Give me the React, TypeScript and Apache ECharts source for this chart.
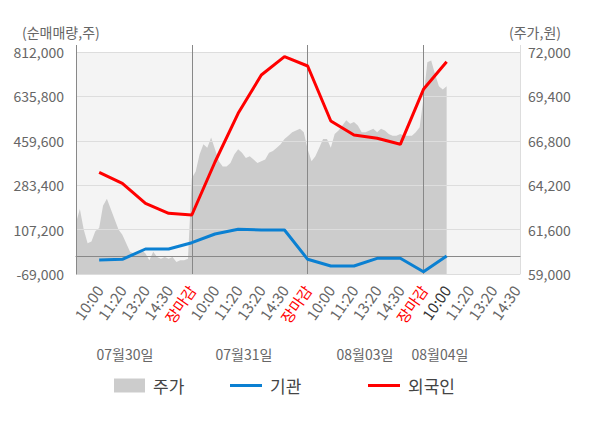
import { useEffect, useRef } from 'react';
import * as echarts from 'echarts';

const TIME_LABELS = ['10:00', '11:20', '13:20', '14:30', '장마감'];
const DAYS = ['07월30일', '07월31일', '08월03일', '08월04일'];
const LEFT_TICKS = { min: -69000, max: 812000, interval: 176200 };
const RIGHT_TICKS = { min: 59000, max: 72000, interval: 2600 };

const PRICE_D1 = [62000, 62800, 61600, 60800, 60900, 61500, 61700, 63000, 63400, 62800, 62200, 61600, 61300, 60800, 60300, 60200, 60300, 60400, 60200, 59800, 60300, 60000, 59900, 60000, 59900, 60000, 59700, 59800, 59800, 59900];
const PRICE_D2 = [64600, 65000, 66000, 66600, 66400, 67000, 66300, 65600, 65300, 65300, 65500, 66000, 66300, 66100, 65800, 65900, 65700, 65500, 65600, 65700, 66100, 66200, 66400, 66600, 66900, 67100, 67300, 67400, 67500, 67300];
const PRICE_D3 = [66300, 65600, 65900, 66400, 66900, 66900, 66400, 67200, 67400, 67700, 68000, 67800, 67900, 67700, 67300, 67300, 67400, 67500, 67300, 67500, 67400, 67200, 67100, 67100, 67200, 67100, 67100, 67100, 67300, 67600];
const PRICE_D4 = [69300, 71400, 71500, 70700, 70000, 69800, 70000];

// values at 10:00, 11:20, 13:20, 14:30, 장마감 of each day, then day-4 10:00
const FOREIGN = [334600, 290900, 211600, 171900, 165100, 375500, 568700, 720700, 793400, 756400, 538200, 482600, 469500, 445700, 664000, 773500];
const INST = [-13400, -10700, 30200, 30200, 55200, 89700, 108400, 105600, 105600, -10700, -37300, -37300, -6700, -6700, -59900, 2400];

const STEPS_PER_SLOT = 6;
const SLOTS_PER_DAY = TIME_LABELS.length;
const STEPS_PER_DAY = STEPS_PER_SLOT * SLOTS_PER_DAY;
const TOTAL_SLOTS = 19;
const N_CATS = TOTAL_SLOTS * STEPS_PER_SLOT + 2;
const CURRENT_LABEL = 15;

const CATS = Array.from({ length: N_CATS }, (_, i) => `${Math.floor(i / STEPS_PER_DAY)}-${i % STEPS_PER_DAY}`);
const PRICE = [...PRICE_D1, ...PRICE_D2, ...PRICE_D3, ...PRICE_D4];

function placeAtLabels(values: number[]) {
  const arr: (number | null)[] = new Array(N_CATS).fill(null);
  values.forEach((v, k) => {
    arr[(k + 1) * STEPS_PER_SLOT] = v;
  });
  return arr;
}

const FONT = "'Noto Sans CJK KR', 'Noto Sans', sans-serif";
const fmt = (v: number) => Math.round(v).toLocaleString('en-US');

export default function App() {
  const ref = useRef<HTMLDivElement>(null);
  useEffect(() => {
    document.body.style.margin = '0';
    const chart = echarts.init(ref.current!, null, { renderer: 'svg' });
    const topTick = (filter: (i: number) => boolean, color: string) => ({
      type: 'category',
      position: 'top',
      gridIndex: 0,
      data: CATS,
      boundaryGap: false,
      z: 3,
      axisLine: { show: false },
      axisLabel: { show: false },
      splitLine: { show: false },
      axisTick: { show: true, length: 7, interval: (i: number) => filter(i), lineStyle: { color, width: 1 } },
    });
    const legendText = { fontSize: 17, color: '#444', fontFamily: FONT, padding: [0, 0, 0, 3] };
    const option: any = {
      animation: false,
      textStyle: { fontFamily: FONT },
      grid: {
        left: 76, right: 80, top: 52, bottom: 154,
        show: true, backgroundColor: '#f4f4f4', borderWidth: 0,
        containLabel: false, outerBoundsMode: 'none',
      },
      legend: [
        { data: [{ name: '주가', icon: 'rect' }], left: 114, top: 377, padding: 0, itemWidth: 31, itemHeight: 14, textStyle: legendText, selectedMode: false },
        { data: [{ name: '기관', icon: 'rect' }], left: 230, top: 377, padding: 0, itemWidth: 32, itemHeight: 3, textStyle: legendText, selectedMode: false },
        { data: [{ name: '외국인', icon: 'rect' }], left: 368, top: 377, padding: 0, itemWidth: 32, itemHeight: 3, textStyle: legendText, selectedMode: false },
      ],
      xAxis: [
        {
          type: 'category',
          position: 'bottom',
          data: CATS,
          boundaryGap: false,
          z: 3,
          axisLine: { show: true, lineStyle: { color: '#888', width: 1 } },
          axisTick: { show: true, length: 4, interval: (i: number) => i % STEPS_PER_DAY === 0, lineStyle: { color: '#888' } },
          splitLine: { show: true, interval: (i: number) => i > 0 && i < N_CATS - 1 && i % STEPS_PER_DAY === 0, lineStyle: { color: '#888', width: 1 } },
          axisLabel: {
            show: true,
            interval: (i: number) => i > 0 && i % STEPS_PER_SLOT === 0,
            rotate: 55,
            margin: 13,
            fontSize: 15,
            color: '#666',
            fontFamily: FONT,
            formatter: (_v: string, index: number) => {
              const k = index / STEPS_PER_SLOT - 1;
              const name = TIME_LABELS[k % SLOTS_PER_DAY];
              if (name === '장마감') return `{r|${name}}`;
              if (k === CURRENT_LABEL) return `{d|${name}}`;
              return name;
            },
            rich: {
              r: { color: '#ff0000', fontSize: 15, fontFamily: FONT },
              d: { color: '#333', fontSize: 15, fontFamily: FONT },
            },
          },
        },
        topTick((i) => i % STEPS_PER_DAY === 0 && i < N_CATS - 1, '#888'),
        topTick((i) => i === N_CATS - 1, '#ddd'),
      ],
      yAxis: [
        {
          type: 'value',
          position: 'left',
          min: LEFT_TICKS.min, max: LEFT_TICKS.max, interval: LEFT_TICKS.interval,
          z: 3,
          axisLine: { show: true, lineStyle: { color: '#888', width: 1 } },
          axisTick: { show: false },
          splitLine: { show: true, lineStyle: { color: '#ddd', width: 1 } },
          axisLabel: { margin: 12, fontSize: 14, color: '#666', fontFamily: FONT, formatter: fmt },
        },
        {
          type: 'value',
          position: 'right',
          min: RIGHT_TICKS.min, max: RIGHT_TICKS.max, interval: RIGHT_TICKS.interval,
          z: 3,
          axisLine: { show: true, lineStyle: { color: '#ddd', width: 1 } },
          axisTick: { show: false },
          splitLine: { show: false },
          axisLabel: { margin: 8, fontSize: 14, color: '#666', fontFamily: FONT, formatter: fmt },
        },
      ],
      series: [
        {
          name: '주가',
          type: 'line',
          xAxisIndex: 0,
          yAxisIndex: 1,
          data: PRICE,
          symbol: 'none',
          z: 2,
          itemStyle: { color: '#cccccc' },
          lineStyle: { width: 0, color: '#cccccc' },
          areaStyle: { color: '#cccccc', opacity: 1, origin: 'start' },
        },
        {
          name: '기관',
          type: 'line',
          xAxisIndex: 0,
          yAxisIndex: 0,
          data: placeAtLabels(INST),
          connectNulls: true,
          symbol: 'none',
          z: 5,
          itemStyle: { color: '#0b80d2' },
          lineStyle: { width: 3, color: '#0b80d2' },
          markLine: {
            silent: true,
            symbol: 'none',
            label: { show: false },
            lineStyle: { color: '#888', width: 1, type: 'solid' },
            data: [{ yAxis: 0 }],
          },
        },
        {
          name: '외국인',
          type: 'line',
          xAxisIndex: 0,
          yAxisIndex: 0,
          data: placeAtLabels(FOREIGN),
          connectNulls: true,
          symbol: 'none',
          z: 6,
          itemStyle: { color: '#ff0000' },
          lineStyle: { width: 3, color: '#ff0000' },
        },
      ],
      graphic: [
        { type: 'text', left: 22, top: 25, style: { text: '(순매매량,주)', fontSize: 14, fill: '#666', fontFamily: FONT } },
        { type: 'text', left: 509, top: 25, style: { text: '(주가,원)', fontSize: 14, fill: '#666', fontFamily: FONT } },
        ...[125, 244, 365, 440].map((cx, k) => ({
          type: 'text', x: cx, y: 354,
          style: { text: DAYS[k], fontSize: 14, fill: '#666', fontFamily: FONT, align: 'center', verticalAlign: 'middle' },
        })),
      ],
    };
    chart.setOption(option);
    return () => chart.dispose();
  }, []);
  return <div ref={ref} style={{ width: 600, height: 428 }} />;
}
